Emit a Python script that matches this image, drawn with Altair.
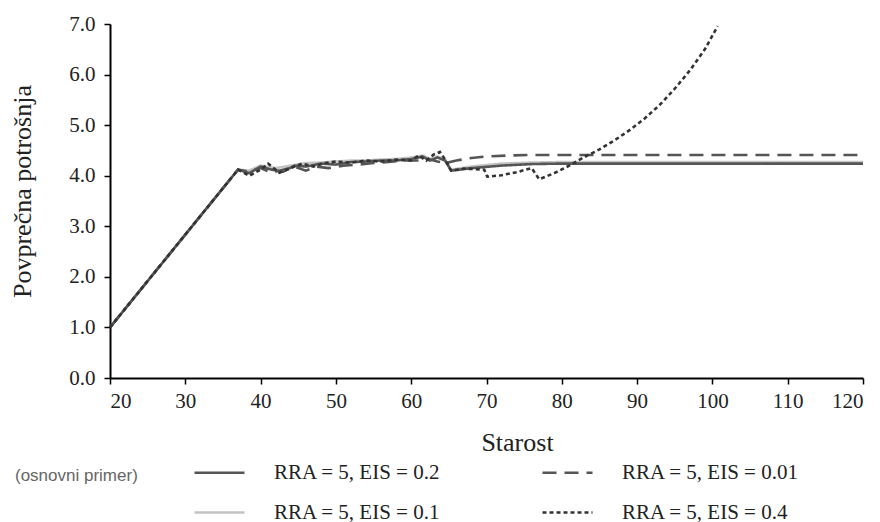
import altair as alt
import pandas as pd

# ---- data ----
series_names = ["RRA = 5, EIS = 0.1", "RRA = 5, EIS = 0.2", "RRA = 5, EIS = 0.01", "RRA = 5, EIS = 0.4"]
legend_order = ["RRA = 5, EIS = 0.2", "RRA = 5, EIS = 0.1", "RRA = 5, EIS = 0.01", "RRA = 5, EIS = 0.4"]

ages_01 = [20, 37, 38.5, 40, 42, 44, 46, 48, 50, 52, 54, 56, 58, 60, 61.5, 62.5, 63.5, 64.5, 65.3, 68, 72, 76, 80, 120]
vals_01 = [1.0, 4.12, 4.1, 4.2, 4.15, 4.2, 4.25, 4.26, 4.28, 4.3, 4.3, 4.32, 4.33, 4.36, 4.4, 4.33, 4.38, 4.32, 4.12, 4.18, 4.24, 4.26, 4.27, 4.27]

ages_02 = [20, 37, 38.5, 40, 41.5, 43, 44.5, 46, 48, 50, 52, 54, 56, 58, 60, 61.5, 62.5, 63.5, 64.5, 65.3, 68, 72, 76, 80, 120]
vals_02 = [1.0, 4.12, 4.05, 4.18, 4.12, 4.08, 4.2, 4.18, 4.24, 4.22, 4.27, 4.28, 4.3, 4.3, 4.33, 4.38, 4.3, 4.36, 4.3, 4.1, 4.15, 4.2, 4.23, 4.24, 4.24]

ages_001 = [20, 37, 38.5, 40, 41.5, 43, 44.5, 46, 47.5, 49, 51, 53, 55, 57, 59, 61, 62.5, 63.5, 64.5, 66, 68, 70, 73, 76, 120]
vals_001 = [1.0, 4.12, 4.08, 4.15, 4.06, 4.12, 4.18, 4.1, 4.18, 4.15, 4.2, 4.22, 4.25, 4.27, 4.3, 4.3, 4.32, 4.28, 4.25, 4.3, 4.35, 4.38, 4.4, 4.41, 4.41]

ages_04 = [20, 37, 38.5, 40, 41, 42.5, 44, 45.5, 47, 48.5, 50, 52, 54, 56, 58, 60, 61, 62, 63, 63.8, 64.5, 65.3, 67, 69.7, 70.1, 72, 74, 76, 77, 79, 81, 83, 85, 87, 89, 91, 93, 95, 97, 99, 100.7]
vals_04 = [1.0, 4.12, 4.0, 4.12, 4.24, 4.06, 4.15, 4.24, 4.18, 4.25, 4.28, 4.26, 4.3, 4.28, 4.32, 4.3, 4.4, 4.3, 4.42, 4.47, 4.32, 4.1, 4.14, 4.12, 3.98, 4.01, 4.07, 4.15, 3.93, 4.05, 4.2, 4.37, 4.52, 4.7, 4.9, 5.13, 5.4, 5.72, 6.08, 6.5, 6.96]

x_ticks = [20, 30, 40, 50, 60, 70, 80, 90, 100, 110, 120]
y_ticks = [0, 1, 2, 3, 4, 5, 6, 7]

rows = []
for name, ages, vals in [
    (series_names[0], ages_01, vals_01),
    (series_names[1], ages_02, vals_02),
    (series_names[2], ages_001, vals_001),
    (series_names[3], ages_04, vals_04),
]:
    for i, (a, v) in enumerate(zip(ages, vals)):
        rows.append({"series": name, "age": a, "val": v, "i": i})
df = pd.DataFrame(rows)

colors = {"RRA = 5, EIS = 0.2": "#555555", "RRA = 5, EIS = 0.01": "#555555",
          "RRA = 5, EIS = 0.1": "#c4c4c4", "RRA = 5, EIS = 0.4": "#333333"}
dashes = {"RRA = 5, EIS = 0.2": [1, 0], "RRA = 5, EIS = 0.01": [14, 8],
          "RRA = 5, EIS = 0.1": [1, 0], "RRA = 5, EIS = 0.4": [4, 3]}
widths = {"RRA = 5, EIS = 0.2": 2.6, "RRA = 5, EIS = 0.01": 2.6,
          "RRA = 5, EIS = 0.1": 2.6, "RRA = 5, EIS = 0.4": 2.2}

FONT = "Liberation Serif"

def make_legend():
    return alt.Legend(title=None, orient="none", legendX=83, legendY=422,
                      columns=2, symbolType="stroke", symbolSize=2500,
                      symbolStrokeWidth=3, labelFont=FONT, labelFontSize=21,
                      labelColor="#222222", labelOffset=28, columnPadding=96,
                      rowPadding=3, labelLimit=400)

lines = alt.Chart(df).mark_line(clip=False).encode(
    x=alt.X("age:Q", scale=alt.Scale(domain=[20, 120], nice=False),
            axis=alt.Axis(values=x_ticks, title="Starost", titleX=407, titleY=64,
                          titleBaseline="middle", titleAlign="center")),
    y=alt.Y("val:Q", scale=alt.Scale(domain=[0, 7], nice=False),
            axis=alt.Axis(values=y_ticks, format=".1f", title="Povprečna potrošnja",
                          titleX=-88, titleY=167, titleAngle=270, titleAlign="center",
                          titleBaseline="middle")),
    color=alt.Color("series:N",
                    scale=alt.Scale(domain=legend_order, range=[colors[s] for s in legend_order]),
                    legend=make_legend()),
    strokeDash=alt.StrokeDash("series:N",
                              scale=alt.Scale(domain=legend_order, range=[dashes[s] for s in legend_order]),
                              legend=make_legend()),
    strokeWidth=alt.StrokeWidth("series:N",
                                scale=alt.Scale(domain=legend_order, range=[widths[s] for s in legend_order]),
                                legend=None),
    order="i:Q",
)

note = alt.Chart(pd.DataFrame({"t": ["(osnovni primer)"]})).mark_text(
    align="left", baseline="middle", font="Liberation Sans", fontSize=17, color="#666666"
).encode(x=alt.value(-95), y=alt.value(452), text="t:N")

chart = alt.layer(lines, note).properties(
    width=753, height=354,
    autosize=alt.AutoSizeParams(type="none"),
    padding={"left": 110, "top": 24, "right": 17, "bottom": 144},
).configure_view(stroke=None).configure_axis(
    grid=False, domainColor="#000000", domainWidth=2, tickColor="#000000", tickWidth=1.5,
    tickSize=6, labelFont=FONT, labelFontSize=21, labelColor="#222222", labelPadding=6,
    titleFont=FONT, titleFontSize=26, titleFontWeight="normal", titleColor="#222222",
).configure_axisY(labelPadding=9)

chart.save("out.html", embed_options={"renderer": "svg", "actions": False})
